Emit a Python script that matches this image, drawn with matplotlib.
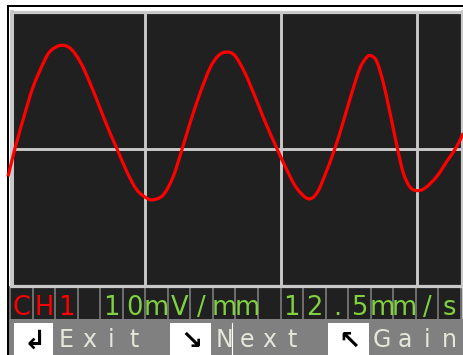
import numpy as np
import matplotlib.pyplot as plt
from matplotlib.patches import Rectangle, PathPatch
from matplotlib.path import Path

# trace samples, in screen divisions (x: time, y: amplitude)
t_div = [-0.006, 0.046, 0.119, 0.180, 0.254, 0.303, 0.377, 0.450, 0.524, 0.598,
         0.671, 0.745, 0.794, 0.868, 0.941, 1.015, 1.063, 1.137, 1.210, 1.277,
         1.333, 1.407, 1.480, 1.541, 1.603, 1.664, 1.738, 1.811, 1.885, 1.971,
         2.045, 2.118, 2.202, 2.266, 2.327, 2.400, 2.461, 2.523, 2.584, 2.634,
         2.665, 2.707, 2.756, 2.805, 2.859, 2.903, 2.952, 3.001, 3.062, 3.149,
         3.222, 3.296, 3.344]
v_div = [-0.204, 0.003, 0.258, 0.453, 0.623, 0.708, 0.752, 0.733, 0.635, 0.477,
         0.295, 0.112, 0.003, -0.168, -0.301, -0.362, -0.374, -0.338, -0.204, 0.003,
         0.185, 0.404, 0.587, 0.677, 0.704, 0.677, 0.550, 0.380, 0.197, 0.003,
         -0.155, -0.289, -0.367, -0.326, -0.192, 0.003, 0.197, 0.404, 0.587, 0.667,
         0.677, 0.635, 0.477, 0.258, 0.003, -0.180, -0.282, -0.307, -0.289, -0.204,
         -0.095, 0.015, 0.112]

status_text = "CH1 10mV/mm 12.5mm/s"
status_red = 3          # first chars drawn in channel colour
menu_text = "  Exit   Next   Gain"
menu_icons = {0: "\u21b2", 7: "\u2198", 14: "\u2196"}

BG = "#202020"
GRID = "#c8c8c8"
RED = "#ff0000"
GREEN = "#80d040"
W, H = 464, 355
FONT = ["Liberation Sans Narrow", "DejaVu Sans"]


def smooth_path(xs, ys):
    # catmull-rom through the samples, written as cubic bezier segments
    p = np.column_stack([xs, ys])
    p = np.vstack([p[0], p, p[-1]])
    verts = [p[1]]
    codes = [Path.MOVETO]
    for i in range(1, len(p) - 2):
        c1 = p[i] + (p[i + 1] - p[i - 1]) / 6
        c2 = p[i + 1] - (p[i + 2] - p[i]) / 6
        verts += [c1, c2, p[i + 1]]
        codes += [Path.CURVE4] * 3
    return Path(verts, codes)


fig = plt.figure(figsize=(W / 100, H / 100), dpi=100)
fig.patch.set_facecolor("white")

# panel in pixel units for frame, status row and menu bar
deco = fig.add_axes([0, 0, 1, 1])
deco.set_xlim(0, W)
deco.set_ylim(H, 0)
deco.axis("off")

deco.add_patch(Rectangle((7, 5), W - 7, 2.2, color="black", lw=0))
deco.add_patch(Rectangle((7, 5), 2.2, H - 5, color="black", lw=0))

# status row
cell = (461 - 10) / 20
deco.add_patch(Rectangle((10, 286), 451, 33, color=BG, lw=0))
deco.add_patch(Rectangle((461, 10), 3, 309, color=GRID, lw=0))
for k in range(21):
    deco.add_patch(Rectangle((10 + k * cell - 1, 286), 2, 33, color="#6c6c6c", lw=0))
for k, ch in enumerate(status_text):
    deco.text(10 + (k + 0.5) * cell, 315, ch, ha="center", va="baseline",
              fontsize=18.5, family=FONT,
              color=RED if k < status_red else GREEN)

# menu bar
deco.add_patch(Rectangle((9.2, 319), W - 9.2, H - 319, color="#808080", lw=0))
for k, ch in enumerate(menu_text):
    if ch.strip():
        deco.text(10 + (k + 0.5) * cell, 347, ch, ha="center", va="baseline",
                  fontsize=17, family=FONT, color="#e6e6da")
for k, icon in menu_icons.items():
    x0 = max(10 + k * cell + 2, 14)
    x1 = 10 + (k + 2) * cell - 2
    deco.add_patch(Rectangle((x0, 323), x1 - x0, H - 323, color="white", lw=0))
    deco.text((x0 + x1) / 2 + 1, 342, icon, ha="center", va="center",
              fontsize=19, fontweight="bold", family="DejaVu Sans", color="black")
deco.plot([232, 232], [323, H], color="white", lw=0.8)

# scope screen
ax = fig.add_axes([12 / W, (H - 285.5) / H, 450.5 / W, 274 / H])
ax.set_facecolor(BG)
ax.set_xlim(0.0235, 3.338)
ax.set_ylim(-1, 1)
ax.set_xticks([1, 2, 3])
ax.set_yticks([0])
ax.tick_params(length=0, labelbottom=False, labelleft=False)
ax.grid(True, color=GRID, lw=2.1)
for side in ax.spines.values():
    side.set_color(GRID)
    side.set_linewidth(2.3)
ax.spines["left"].set_linewidth(2.9)

trace = PathPatch(smooth_path(t_div, v_div), facecolor="none", edgecolor=RED,
                  lw=2.3, capstyle="butt", joinstyle="round", clip_on=False, zorder=5)
ax.add_patch(trace)

fig.savefig("out.png", dpi=100, facecolor=fig.get_facecolor())
